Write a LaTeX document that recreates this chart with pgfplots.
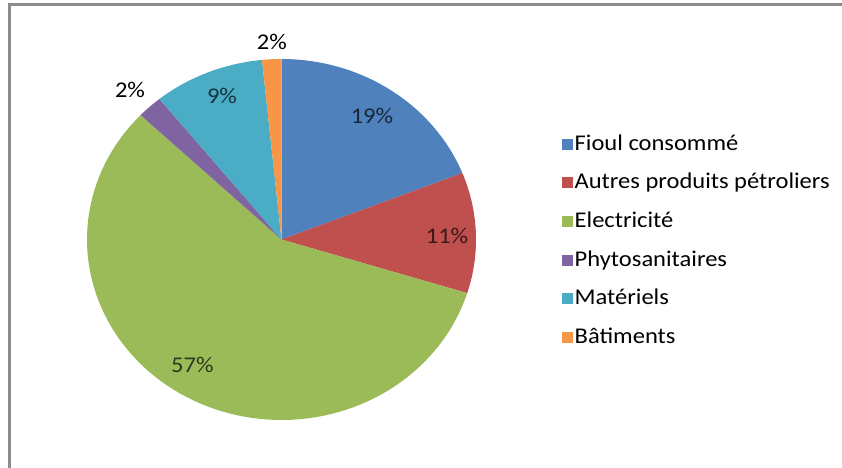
\documentclass[border=0pt]{standalone}
\usepackage{fontspec}
\setmainfont[FakeStretch=1.09]{Carlito}
\usepackage{pgfplots}
\usepackage{pgfplotstable}
\pgfplotsset{compat=1.18}
\definecolor{c0}{HTML}{4F81BD}
\definecolor{c1}{HTML}{C0504D}
\definecolor{c2}{HTML}{9BBB59}
\definecolor{c3}{HTML}{8064A2}
\definecolor{c4}{HTML}{4BACC6}
\definecolor{c5}{HTML}{F79646}
% value in percent; lx, ly = label position (pie radius = 1)
\pgfplotstableread[col sep=comma]{
name,value,lx,ly,lc
Fioul consommé,19.0,0.465,0.684,c0!30!black
Autres produits pétroliers,10.8,0.851,0.020,c1!30!black
Electricité,57.3,-0.458,-0.693,c2!30!black
Phytosanitaires,2.1,-0.779,0.828,black
Matériels,9.2,-0.306,0.798,c4!30!black
Bâtiments,1.6,-0.049,1.094,black
}\datatable
\begin{document}
\begin{tikzpicture}[font=\fontsize{22.5bp}{26bp}\selectfont]
\useasboundingbox (0,0) rectangle (842bp,468bp);
\fill[white] (0,0) rectangle (842bp,468bp);
\draw[black!45, line width=2.2bp] (9.5bp,0) -- (9.5bp,463.5bp) -- (842bp,463.5bp);
\begin{axis}[
  at={(87bp,48bp)}, anchor=south west,
  scale only axis, width=389bp, height=361bp,
  xmin=-1, xmax=1, ymin=-1, ymax=1,
  hide axis, clip=false,
  legend style={at={(1.221,0.795)}, anchor=north west, draw=none, fill=none,
    inner sep=0pt, row sep=16.6bp,
    nodes={inner ysep=0pt, inner xsep=2bp, text height=17bp, text depth=5bp}},
  legend cell align=left,
  legend image code/.code={\fill[#1] (0bp,-5.5bp) rectangle (10.5bp,5.5bp);},
]
\pgfmathsetmacro\cum{0}
\pgfplotsforeachungrouped \i in {0,...,5}{
  \pgfplotstablegetelem{\i}{value}\of\datatable \let\v\pgfplotsretval
  \pgfplotstablegetelem{\i}{name}\of\datatable \let\n\pgfplotsretval
  \pgfplotstablegetelem{\i}{lx}\of\datatable \let\lx\pgfplotsretval
  \pgfplotstablegetelem{\i}{ly}\of\datatable \let\ly\pgfplotsretval
  \pgfplotstablegetelem{\i}{lc}\of\datatable \let\lc\pgfplotsretval
  \pgfmathsetmacro\a{\cum*3.6}
  \pgfmathsetmacro\b{(\cum+\v)*3.6}
  \pgfmathtruncatemacro\p{round(\v)}
  \edef\temp{%
    \noexpand\addplot[fill=c\i, draw=none, domain=\a:\b, samples=90, variable=\noexpand\t]
      ({sin(\noexpand\t)},{cos(\noexpand\t)}) -- (axis cs:0,0) -- cycle;
    \noexpand\addlegendentry{\n}
    \noexpand\node[text=\lc, inner sep=0pt] at (axis cs:\lx,\ly) {\p\noexpand\%};
  }%
  \temp
  \pgfmathsetmacro\cum{\cum+\v}
}
\end{axis}
\end{tikzpicture}
\end{document}
